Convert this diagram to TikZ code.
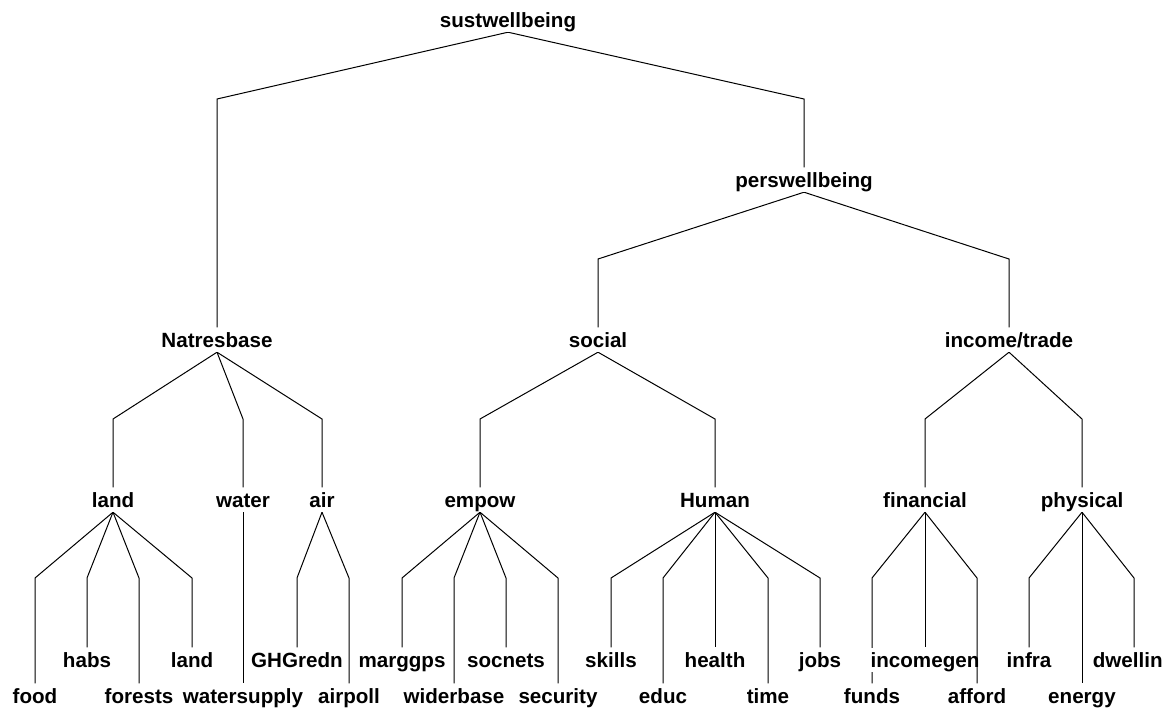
\documentclass[tikz,border=0pt]{standalone}
\usepackage{fontspec}
\setmainfont{Liberation Sans}
\pgfdeclarelayer{bg}
\pgfsetlayers{bg,main}
\tikzset{
  lbl/.style={anchor=base, inner xsep=0pt, inner ysep=5pt, text height=14.5pt,
    text depth=0pt, font=\fontsize{20.6}{22}\selectfont\bfseries, fill=white},
  conn/.style={line width=1pt, draw=black},
}
\begin{document}
\begin{tikzpicture}[x=1pt,y=-1pt]
\useasboundingbox (0,0) rectangle (1169,713);
% corner levels
\coordinate (r1) at (0,99);
\coordinate (r2) at (0,259);
\coordinate (r3) at (0,419);
\coordinate (r4) at (0,578);
% level 0-3
\node[lbl] (sust) at (508,27) {sustwellbeing};
\node[lbl] (pers) at (804,187) {perswellbeing};
\node[lbl] (nat) at (217,347) {Natresbase};
\node[lbl] (soc) at (598,347) {social};
\node[lbl] (inc) at (1009,347) {income/trade};
\node[lbl] (land) at (113,507) {land};
\node[lbl] (water) at (243,507) {water};
\node[lbl] (air) at (322,507) {air};
\node[lbl] (emp) at (480,507) {empow};
\node[lbl] (hum) at (715,507) {Human};
\node[lbl] (fin) at (925,507) {financial};
\node[lbl] (phy) at (1082,507) {physical};
% leaves: upper row baseline 667, lower row 703
\node[lbl] (food) at (35,703) {food};
\node[lbl] (habs) at (87,667) {habs};
\node[lbl] (forests) at (139,703) {forests};
\node[lbl] (landb) at (192,667) {land};
\node[lbl] (wsup) at (243,703) {watersupply};
\node[lbl] (ghg) at (297,667) {GHGredn};
\node[lbl] (apoll) at (349,703) {airpoll};
\node[lbl] (marg) at (402,667) {marggps};
\node[lbl] (wider) at (454,703) {widerbase};
\node[lbl] (socn) at (506,667) {socnets};
\node[lbl] (secu) at (558,703) {security};
\node[lbl] (skills) at (611,667) {skills};
\node[lbl] (educ) at (663,703) {educ};
\node[lbl] (health) at (715,667) {health};
\node[lbl] (time) at (768,703) {time};
\node[lbl] (jobs) at (820,667) {jobs};
\node[lbl] (funds) at (872,703) {funds};
\node[lbl] (incg) at (925,667) {incomegen};
\node[lbl] (afford) at (977,703) {afford};
\node[lbl] (infra) at (1029,667) {infra};
\node[lbl] (energy) at (1082,703) {energy};
\node[lbl] (dwell) at (1134,667) {dwellin\phantom{g}};
\begin{pgfonlayer}{bg}
\fill[white] (0,0) rectangle (1169,713);
\draw[conn] (sust.south) -- (nat.north |- r1) -- (nat.north);
\draw[conn] (sust.south) -- (pers.north |- r1) -- (pers.north);
\draw[conn] (pers.south) -- (soc.north |- r2) -- (soc.north);
\draw[conn] (pers.south) -- (inc.north |- r2) -- (inc.north);
\draw[conn] (nat.south) -- (land.north |- r3) -- (land.north);
\draw[conn] (nat.south) -- (water.north |- r3) -- (water.north);
\draw[conn] (nat.south) -- (air.north |- r3) -- (air.north);
\draw[conn] (soc.south) -- (emp.north |- r3) -- (emp.north);
\draw[conn] (soc.south) -- (hum.north |- r3) -- (hum.north);
\draw[conn] (inc.south) -- (fin.north |- r3) -- (fin.north);
\draw[conn] (inc.south) -- (phy.north |- r3) -- (phy.north);
\draw[conn] (land.south) -- (food.north |- r4) -- (food.north);
\draw[conn] (land.south) -- (habs.north |- r4) -- (habs.north);
\draw[conn] (land.south) -- (forests.north |- r4) -- (forests.north);
\draw[conn] (land.south) -- (landb.north |- r4) -- (landb.north);
\draw[conn] (water.south) -- (wsup.north);
\draw[conn] (air.south) -- (ghg.north |- r4) -- (ghg.north);
\draw[conn] (air.south) -- (apoll.north |- r4) -- (apoll.north);
\draw[conn] (emp.south) -- (marg.north |- r4) -- (marg.north);
\draw[conn] (emp.south) -- (wider.north |- r4) -- (wider.north);
\draw[conn] (emp.south) -- (socn.north |- r4) -- (socn.north);
\draw[conn] (emp.south) -- (secu.north |- r4) -- (secu.north);
\draw[conn] (hum.south) -- (skills.north |- r4) -- (skills.north);
\draw[conn] (hum.south) -- (educ.north |- r4) -- (educ.north);
\draw[conn] (hum.south) -- (health.north);
\draw[conn] (hum.south) -- (time.north |- r4) -- (time.north);
\draw[conn] (hum.south) -- (jobs.north |- r4) -- (jobs.north);
\draw[conn] (fin.south) -- (funds.north |- r4) -- (funds.north);
\draw[conn] (fin.south) -- (incg.north);
\draw[conn] (phy.south) -- (infra.north |- r4) -- (infra.north);
\draw[conn] (phy.south) -- (energy.north);
\draw[conn] (phy.south) -- (dwell.north |- r4) -- (dwell.north);
\end{pgfonlayer}
\draw[conn] (fin.south) -- (afford.north |- r4) -- (afford.north);
\end{tikzpicture}
\end{document}
